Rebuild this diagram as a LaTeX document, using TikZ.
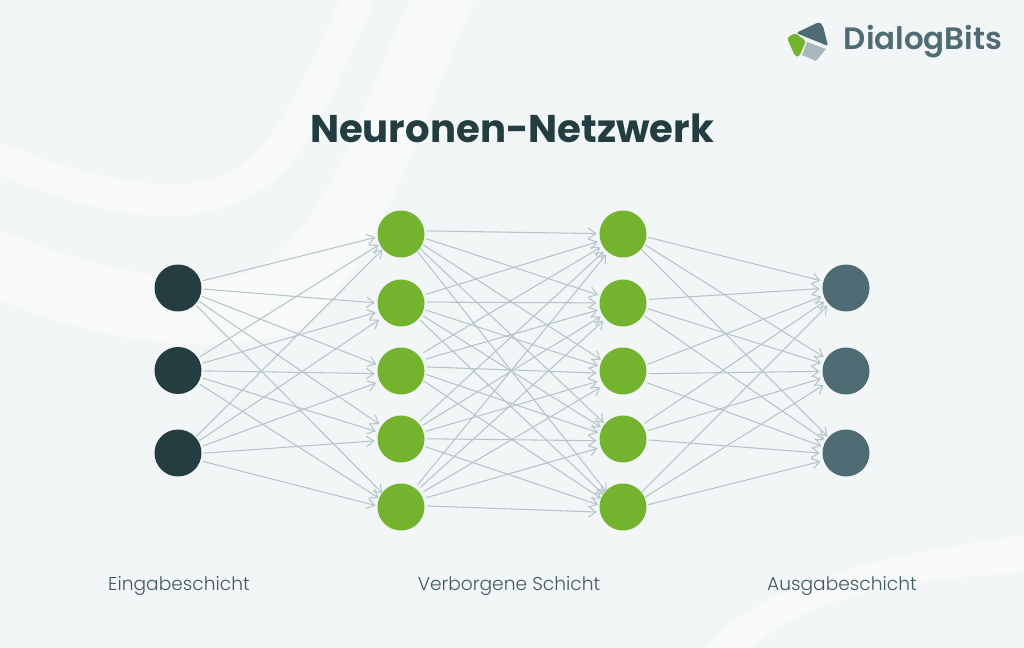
\documentclass[tikz,border=0pt]{standalone}
\usepackage{fontspec}
\setmainfont{Poppins}
\newfontfamily\lightfont{Poppins Light}
\newfontfamily\mediumfont{Poppins SemiBold}
\usetikzlibrary{arrows.meta}

\definecolor{bgcol}{HTML}{F3F6F7}
\definecolor{swooshcol}{HTML}{F8FAFA}
\definecolor{darkcol}{HTML}{233D40}
\definecolor{greencol}{HTML}{74B32D}
\definecolor{slatecol}{HTML}{4F6B73}
\definecolor{textcol}{HTML}{3F5A60}
\definecolor{edgecol}{HTML}{B5C5C7}
\definecolor{greycol}{HTML}{A9B8BC}

\tikzset{
	neuron/.style={circle, minimum size=0.94cm, inner sep=0pt},
	link/.style={-{Straight Barb[length=4.2pt,width=6pt]}, color=edgecol, line width=0.6pt, shorten <=14.8pt, shorten >=15pt},
	layertext/.style={color=textcol, font=\lightfont\fontsize{10.6}{13}\selectfont, inner sep=0pt},
}

\begin{document}
\begin{tikzpicture}[x=0.02cm,y=-0.02cm]
	\useasboundingbox (0,0) rectangle (1024,648);
	\fill[bgcol] (0,0) rectangle (1024,648);   % background

	% light swooshes behind the network
	\fill[swooshcol] (0,142) .. controls (60,168) and (120,184) .. (175,184) .. controls (260,184) and (285,120) .. (340,0) -- (375,0) .. controls (320,120) and (295,216) .. (165,216) .. controls (110,216) and (50,196) .. (0,175) -- cycle;
	\fill[swooshcol] (0,230) .. controls (80,265) and (170,282) .. (225,280) .. controls (320,260) and (350,130) .. (410,0) -- (475,0) .. controls (420,120) and (390,250) .. (300,330) .. controls (220,360) and (90,340) .. (0,300) -- cycle;
	\fill[swooshcol] (1024,535) .. controls (900,552) and (760,580) .. (705,648) -- (753,648) .. controls (800,600) and (900,578) .. (1024,573) -- cycle;

	% input layer, the ports sit a little off the centres
	\foreach \i/\y/\p in {1/288/287,2/370.5/370.5,3/453/455} {
		\node[neuron, fill=darkcol] (in\i) at (178,\y) {};
		\coordinate (inport\i) at (178,\p);
	}

	% hidden layers
	\foreach \i/\y/\pa/\pb/\pc/\pd in {1/234/231/230.5/234/231,2/303/305/302/303/301,3/371/374/366/374/374,4/439/439/438.5/441/438,5/507/512/505/513/511} {
		\node[neuron, fill=greencol] (hida\i) at (401,\y) {};
		\node[neuron, fill=greencol] (hidb\i) at (623,\y) {};
		\coordinate (hidain\i) at (401,\pa);
		\coordinate (hidaout\i) at (401,\pb);
		\coordinate (hidbin\i) at (623,\pc);
		\coordinate (hidbout\i) at (623,\pd);
	}

	% output layer
	\foreach \i/\y/\p in {1/288/287,2/371/371,3/453/455} {
		\node[neuron, fill=slatecol] (out\i) at (846,\y) {};
		\coordinate (outport\i) at (846,\p);
	}

	% connections
	\foreach \i in {1,2,3}
		\foreach \j in {1,...,5} {
			\draw[link] (inport\i) -- (hidain\j);
			\draw[link] (hidbout\j) -- (outport\i);
		}
	\foreach \i in {1,...,5}
		\foreach \j in {1,...,5}
			\draw[link] (hidaout\i) -- (hidbin\j);

	% texts
	\node[color=darkcol, font=\fontsize{22}{30}\selectfont\bfseries, inner sep=0pt] (title) at (512,128) {Neuronen-Netzwerk};
	\node[layertext] (inlabel) at (179,586) {Eingabeschicht};
	\node[layertext] (hidlabel) at (509,586) {Verborgene Schicht};
	\node[layertext] (outlabel) at (842,586) {Ausgabeschicht};

	% logo
	\fill[slatecol, rounded corners=1pt] (796,33) -- (819,22) -- (823,26) -- (828,46) -- cycle;
	\fill[greencol, rounded corners=1.5pt] (787,38) -- (795,33) -- (806,41) -- (799,57) -- (795,56) -- cycle;
	\fill[greycol] (807,42) -- (826,49) -- (816,61) -- (802,55) -- cycle;
	\node[color=slatecol, font=\mediumfont\fontsize{17.6}{22}\selectfont, inner sep=0pt] (logotext) at (923,42) {DialogBits};
\end{tikzpicture}
\end{document}
